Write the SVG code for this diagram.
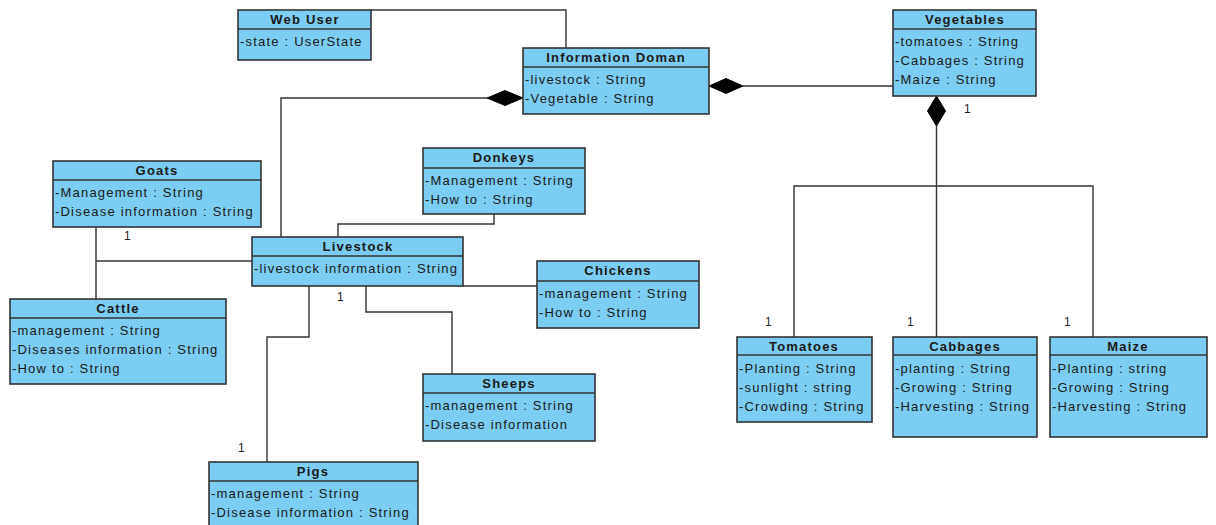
<svg xmlns="http://www.w3.org/2000/svg" width="1216" height="525" viewBox="0 0 1216 525">
<style>
.box{fill:#7BCDF3;stroke:#333;stroke-width:1.6}
.div{stroke:#333;stroke-width:1.6}
.hd{font-family:"Liberation Sans",Arial,sans-serif;font-size:13px;font-weight:bold;fill:#1a1a1a;text-anchor:middle;letter-spacing:1.2px}
.at{font-family:"Liberation Sans",Arial,sans-serif;font-size:13px;fill:#1a1a1a;letter-spacing:1.2px}
.m{font-family:"Liberation Sans",Arial,sans-serif;font-size:12px;fill:#222}
.ln{fill:none;stroke:#333;stroke-width:1.4}
.dm{fill:#000;stroke:#000;stroke-width:1}
</style>
<rect width="1216" height="525" fill="#fff"/>
<g id="connectors">
<polyline class="ln" points="371,10 566,10 566,48"/>
<polyline class="ln" points="487,98 281,98 281,237"/>
<polygon class="dm" points="523,98 505,90.5 487,98 505,105.5"/>
<line class="ln" x1="743" y1="86" x2="893" y2="86"/>
<polygon class="dm" points="709,86 726,78.5 743,86 726,93.5"/>
<polygon class="dm" points="936.5,96 945.5,111 936.5,126 927.5,111"/>
<line class="ln" x1="936.5" y1="126" x2="936.5" y2="337"/>
<polyline class="ln" points="794,337 794,186 1093,186 1093,337"/>
<text class="m" x="964" y="113">1</text>
<text class="m" x="765" y="326">1</text>
<text class="m" x="907" y="326">1</text>
<text class="m" x="1064" y="326">1</text>
<line class="ln" x1="96" y1="227" x2="96" y2="299"/>
<line class="ln" x1="96" y1="261" x2="252" y2="261"/>
<text class="m" x="124" y="240">1</text>
<polyline class="ln" points="494,214 494,224 338,224 338,237"/>
<line class="ln" x1="463" y1="286" x2="537" y2="286"/>
<polyline class="ln" points="366,286 366,312 452,312 452,374"/>
<polyline class="ln" points="309,286 309,337 267,337 267,462"/>
<text class="m" x="337" y="301">1</text>
<text class="m" x="238" y="452">1</text>
</g>
<g id="webuser">
<rect class="box" x="238" y="10" width="133" height="50"/>
<line class="div" x1="238" y1="29" x2="371" y2="29"/>
<text class="hd" x="305" y="24">Web User</text>
<text class="at" x="240" y="46">-state : UserState</text>
</g>
<g id="infodomain">
<rect class="box" x="523" y="48" width="186" height="66"/>
<line class="div" x1="523" y1="67" x2="709" y2="67"/>
<text class="hd" x="616" y="62">Information Doman</text>
<text class="at" x="525" y="84">-livestock : String</text>
<text class="at" x="525" y="103">-Vegetable : String</text>
</g>
<g id="vegetables">
<rect class="box" x="893" y="10" width="143" height="86"/>
<line class="div" x1="893" y1="29" x2="1036" y2="29"/>
<text class="hd" x="965" y="24">Vegetables</text>
<text class="at" x="895" y="46">-tomatoes : String</text>
<text class="at" x="895" y="65">-Cabbages : String</text>
<text class="at" x="895" y="84">-Maize : String</text>
</g>
<g id="goats">
<rect class="box" x="53" y="161" width="208" height="66"/>
<line class="div" x1="53" y1="180" x2="261" y2="180"/>
<text class="hd" x="157" y="175">Goats</text>
<text class="at" x="55" y="197">-Management : String</text>
<text class="at" x="55" y="216">-Disease information : String</text>
</g>
<g id="donkeys">
<rect class="box" x="423" y="148" width="162" height="66"/>
<line class="div" x1="423" y1="168" x2="585" y2="168"/>
<text class="hd" x="504" y="162">Donkeys</text>
<text class="at" x="425" y="185">-Management : String</text>
<text class="at" x="425" y="204">-How to : String</text>
</g>
<g id="livestock">
<rect class="box" x="252" y="237" width="211" height="49"/>
<line class="div" x1="252" y1="256" x2="463" y2="256"/>
<text class="hd" x="358" y="251">Livestock</text>
<text class="at" x="254" y="273">-livestock information : String</text>
</g>
<g id="chickens">
<rect class="box" x="537" y="261" width="162" height="67"/>
<line class="div" x1="537" y1="281" x2="699" y2="281"/>
<text class="hd" x="618" y="275">Chickens</text>
<text class="at" x="539" y="298">-management : String</text>
<text class="at" x="539" y="317">-How to : String</text>
</g>
<g id="cattle">
<rect class="box" x="10" y="299" width="216" height="85"/>
<line class="div" x1="10" y1="318" x2="226" y2="318"/>
<text class="hd" x="118" y="313">Cattle</text>
<text class="at" x="12" y="335">-management : String</text>
<text class="at" x="12" y="354">-Diseases information : String</text>
<text class="at" x="12" y="373">-How to : String</text>
</g>
<g id="sheeps">
<rect class="box" x="423" y="374" width="172" height="67"/>
<line class="div" x1="423" y1="393" x2="595" y2="393"/>
<text class="hd" x="509" y="388">Sheeps</text>
<text class="at" x="425" y="410">-management : String</text>
<text class="at" x="425" y="429">-Disease information</text>
</g>
<g id="pigs">
<rect class="box" x="209" y="462" width="209" height="70"/>
<line class="div" x1="209" y1="481" x2="418" y2="481"/>
<text class="hd" x="313" y="476">Pigs</text>
<text class="at" x="211" y="498">-management : String</text>
<text class="at" x="211" y="517">-Disease information : String</text>
</g>
<g id="tomatoes">
<rect class="box" x="737" y="337" width="135" height="85"/>
<line class="div" x1="737" y1="355" x2="872" y2="355"/>
<text class="hd" x="804" y="351">Tomatoes</text>
<text class="at" x="739" y="373">-Planting : String</text>
<text class="at" x="739" y="392">-sunlight : string</text>
<text class="at" x="739" y="411">-Crowding : String</text>
</g>
<g id="cabbages">
<rect class="box" x="893" y="337" width="144" height="100"/>
<line class="div" x1="893" y1="355" x2="1037" y2="355"/>
<text class="hd" x="965" y="351">Cabbages</text>
<text class="at" x="895" y="373">-planting : String</text>
<text class="at" x="895" y="392">-Growing : String</text>
<text class="at" x="895" y="411">-Harvesting : String</text>
</g>
<g id="maize">
<rect class="box" x="1050" y="337" width="157" height="100"/>
<line class="div" x1="1050" y1="355" x2="1207" y2="355"/>
<text class="hd" x="1128" y="351">Maize</text>
<text class="at" x="1052" y="373">-Planting : string</text>
<text class="at" x="1052" y="392">-Growing : String</text>
<text class="at" x="1052" y="411">-Harvesting : String</text>
</g>
</svg>
